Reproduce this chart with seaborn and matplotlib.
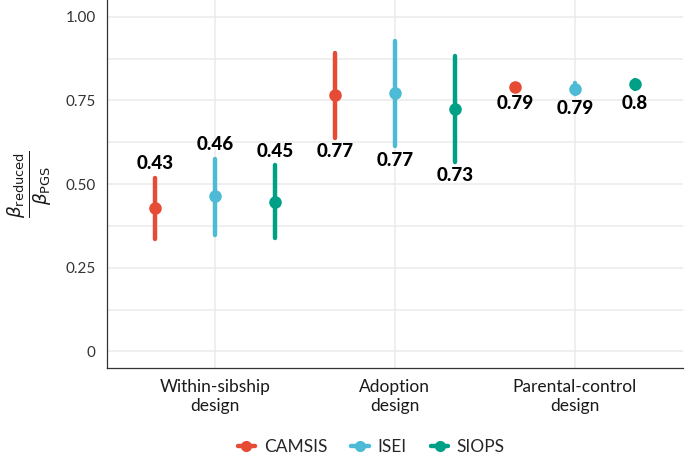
import numpy as np
import pandas as pd
import matplotlib
matplotlib.use("Agg")
import matplotlib.pyplot as plt
from matplotlib.lines import Line2D
import seaborn as sns

designs = ["Within-sibship\ndesign", "Adoption\ndesign", "Parental-control\ndesign"]
measures = ["CAMSIS", "ISEI", "SIOPS"]
colors = ["#E64B35", "#4DBBD5", "#00A087"]

# estimates, lower and upper CI, per design (rows) and measure (cols)
est = [[0.429, 0.463, 0.448],
       [0.766, 0.773, 0.725],
       [0.790, 0.783, 0.798]]
lo = [[0.336, 0.349, 0.339],
      [0.639, 0.613, 0.567],
      [0.783, 0.768, 0.783]]
hi = [[0.519, 0.576, 0.556],
      [0.891, 0.928, 0.883],
      [0.797, 0.801, 0.812]]
labels = [["0.43", "0.46", "0.45"],
          ["0.77", "0.77", "0.73"],
          ["0.79", "0.79", "0.8"]]
label_above = [True, False, False]
yticks = [0, 0.25, 0.5, 0.75, 1.0]
yticklabels = ["0", "0.25", "0.50", "0.75", "1.00"]

rows = []
for i, d in enumerate(designs):
    for j, m in enumerate(measures):
        for v in (lo[i][j], est[i][j], hi[i][j]):
            rows.append({"design": d, "measure": m, "value": v})
df = pd.DataFrame(rows)

sns.set_theme(style="white")
plt.rcParams["font.family"] = ["Lato", "DejaVu Sans"]

fig = plt.figure(figsize=(6.85, 4.54), dpi=100)
ax = fig.add_axes([0.156, 0.189, 0.841, 0.811])

dodge = 0.667
sns.pointplot(data=df, x="design", y="value", hue="measure", order=designs,
              hue_order=measures, palette=colors, estimator="median",
              errorbar=("pi", 100), dodge=dodge, linestyle="none",
              markers="o", markersize=7, err_kws={"linewidth": 3.2},
              ax=ax, legend=False, zorder=3)

offsets = np.linspace(0, dodge, len(measures)) - dodge / 2
for i in range(len(designs)):
    for j in range(len(measures)):
        x = i + offsets[j]
        if label_above[i]:
            y = hi[i][j] + 0.042
        else:
            y = lo[i][j] - 0.042
        ax.text(x, y, labels[i][j], ha="center", va="center", fontsize=13.5,
                fontweight="black", color="black", zorder=4)

ax.set_ylim(-0.05, 1.05)
ax.set_xlim(-0.6, 2.6)
ax.set_yticks(yticks)
ax.set_yticklabels(yticklabels)
ax.set_yticks([0.125, 0.375, 0.625, 0.875], minor=True)
ax.grid(True, which="major", axis="both", color="#ebebeb", linewidth=1.1, zorder=0)
ax.grid(True, which="minor", axis="y", color="#ebebeb", linewidth=1.1, zorder=0)
ax.set_axisbelow(True)
for s in ["top", "right"]:
    ax.spines[s].set_visible(False)
for s in ["left", "bottom"]:
    ax.spines[s].set_color("#333333")
    ax.spines[s].set_linewidth(0.9)
ax.tick_params(axis="y", length=0, pad=8, labelsize=11, labelcolor="#333333")
ax.tick_params(axis="x", length=0, pad=8, labelsize=12.5, labelcolor="#1a1a1a")
ax.tick_params(axis="y", which="minor", length=0)
ax.set_xlabel("")
ax.set_ylabel(r"$\frac{\beta_{\mathrm{reduced}}}{\beta_{\mathrm{PGS}}}$",
              fontsize=19, color="#1a1a1a", labelpad=8)

handles = [Line2D([0], [0], color=c, marker="o", markersize=7, linewidth=3.2)
           for c in colors]
fig.legend(handles, measures, loc="center", bbox_to_anchor=(0.542, 0.016),
           ncol=3, frameon=False, fontsize=12.5, handlelength=1.0,
           handletextpad=0.5, columnspacing=1.4, borderaxespad=0)

fig.savefig("out.png", dpi=100)
